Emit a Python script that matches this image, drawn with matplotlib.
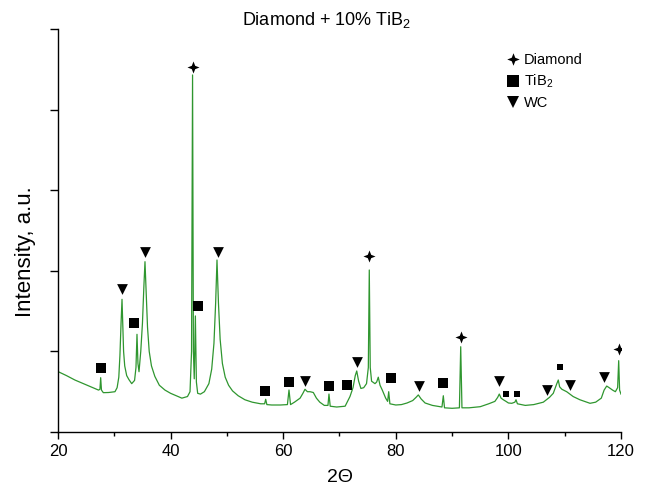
import matplotlib
matplotlib.use("Agg")
import matplotlib.pyplot as plt
from matplotlib.path import Path
from matplotlib.lines import Line2D
from matplotlib.ticker import MultipleLocator

plt.rcParams['font.family'] = ['Liberation Sans', 'DejaVu Sans']
plt.rcParams['mathtext.fontset'] = 'custom'
plt.rcParams['mathtext.rm'] = 'Liberation Sans'
plt.rcParams['mathtext.it'] = 'Liberation Sans'

# ---- XRD pattern (2theta, intensity a.u.) ----
two_theta = [20.05, 21.5, 23.0, 24.5, 26.0, 27.2, 27.45, 27.58, 27.72, 28.05, 29.0, 30.12,
             30.5, 30.8, 31.0, 31.2, 31.37, 31.5, 31.65, 31.85, 32.2, 32.6, 33.09, 33.6,
             33.85, 34.03, 34.2, 34.39, 34.7, 35.0, 35.25, 35.45, 35.65, 35.9, 36.2, 36.6,
             37.2, 38.0, 39.0, 40.0, 41.0, 42.0, 43.0, 43.45, 43.72, 43.9, 44.05, 44.2,
             44.4, 44.58, 44.81, 45.3, 46.0, 46.8, 47.3, 47.7, 48.0, 48.24, 48.5, 48.8,
             49.2, 49.7, 50.3, 51.0, 52.0, 53.2, 54.5, 56.0, 56.7, 56.89, 57.1, 57.96,
             59.5, 60.75, 61.03, 61.3, 62.0, 63.0, 63.5, 63.87, 64.3, 64.76, 65.35, 65.9,
             66.5, 67.3, 67.95, 68.13, 68.35, 69.5, 71.0, 71.86, 72.4, 72.8, 73.06, 73.4,
             73.8, 74.3, 74.8, 75.12, 75.29, 75.46, 75.7, 76.3, 76.6, 76.89, 77.2, 77.6,
             78.2, 78.55, 78.74, 78.95, 80.0, 81.0, 82.0, 83.0, 83.6, 84.0, 84.5, 85.2,
             86.5, 88.2, 88.44, 88.65, 90.0, 91.3, 91.53, 91.75, 93.0, 95.0, 96.5, 97.6,
             98.1, 98.38, 98.7, 99.1, 99.57, 100.0, 100.6, 101.15, 101.35, 101.6, 103.0, 104.5,
             106.2, 107.3, 107.97, 108.6, 108.86, 109.1, 109.5, 110.35, 111.5, 112.7, 114.5, 115.5,
             116.5, 117.0, 117.46, 117.9, 118.5, 119.0, 119.4, 119.59, 119.75, 120.0]
intensity = [0.748, 0.70, 0.645, 0.60, 0.555, 0.52, 0.53, 0.674, 0.52, 0.488, 0.49, 0.50,
             0.55, 0.68, 0.95, 1.35, 1.646, 1.35, 1.00, 0.82, 0.70, 0.65, 0.60, 0.64,
             0.80, 1.212, 0.85, 0.748, 1.00, 1.35, 1.80, 2.113, 1.75, 1.30, 1.00, 0.82,
             0.69, 0.58, 0.52, 0.48, 0.45, 0.42, 0.44, 0.50, 1.00, 4.43, 1.00, 0.66,
             1.44, 0.62, 0.48, 0.47, 0.50, 0.60, 0.78, 1.10, 1.60, 2.134, 1.60, 1.15,
             0.85, 0.68, 0.58, 0.51, 0.45, 0.40, 0.37, 0.35, 0.35, 0.406, 0.34, 0.335,
             0.335, 0.34, 0.521, 0.34, 0.37, 0.42, 0.48, 0.53, 0.50, 0.50, 0.49, 0.42,
             0.37, 0.33, 0.33, 0.471, 0.32, 0.31, 0.32, 0.44, 0.55, 0.70, 0.757, 0.63,
             0.54, 0.55, 0.60, 0.80, 2.01, 0.80, 0.63, 0.60, 0.62, 0.68, 0.58, 0.52,
             0.42, 0.38, 0.50, 0.35, 0.335, 0.34, 0.36, 0.39, 0.43, 0.46, 0.41, 0.36,
             0.33, 0.31, 0.45, 0.30, 0.294, 0.30, 1.058, 0.30, 0.30, 0.314, 0.35, 0.38,
             0.43, 0.471, 0.42, 0.40, 0.38, 0.36, 0.356, 0.37, 0.40, 0.35, 0.33, 0.34,
             0.37, 0.43, 0.48, 0.60, 0.645, 0.56, 0.53, 0.50, 0.44, 0.40, 0.356, 0.37,
             0.42, 0.52, 0.57, 0.55, 0.52, 0.50, 0.55, 0.885, 0.52, 0.47]

# ---- phase markers ----
diamond_x = [43.98, 75.29, 91.53, 119.59]
diamond_y = [4.53, 2.18, 1.18, 1.03]
tib2_x = [27.64, 33.55, 44.81, 56.77, 61.03, 68.13, 71.39, 79.09, 88.44]
tib2_y = [0.79, 1.356, 1.567, 0.512, 0.620, 0.574, 0.583, 0.666, 0.604]
tib2_small_x = [99.57, 101.47, 109.17]
tib2_small_y = [0.475, 0.475, 0.806]
wc_x = [31.42, 35.51, 48.42, 63.87, 73.16, 84.12, 98.38, 106.91, 110.94, 117.03]
wc_y = [1.774, 2.23, 2.237, 0.636, 0.865, 0.571, 0.636, 0.521, 0.583, 0.679]

title = "Diamond + 10% TiB$_2$"
xlabel = "2\u0398"
ylabel = "Intensity, a.u."
legend_labels = ["Diamond", "TiB$_2$", "WC"]
xticks = [20, 40, 60, 80, 100, 120]

# 4-pointed star marker
r = 0.28
star_path = Path([(0, 1), (r, r), (1, 0), (r, -r), (0, -1), (-r, -r), (-1, 0), (-r, r), (0, 1)],
                 [Path.MOVETO] + [Path.LINETO] * 7 + [Path.CLOSEPOLY])

fig = plt.figure(figsize=(6.48, 4.91), dpi=100)
ax = fig.add_axes([58 / 648, 1 - 432 / 491, (621 - 58) / 648, (432 - 29) / 491])

ax.plot(two_theta, intensity, color='#2f962f', lw=0.9)
ax.scatter(diamond_x, diamond_y, marker=star_path, s=75, color='black', zorder=3, linewidths=0)
ax.scatter(tib2_x, tib2_y, marker='s', s=60, color='black', zorder=3, linewidths=0)
ax.scatter(tib2_small_x, tib2_small_y, marker='s', s=18, color='black', zorder=3, linewidths=0)
ax.scatter(wc_x, wc_y, marker='v', s=60, color='black', zorder=3, linewidths=0)

ax.set_xlim(20, 120)
ax.set_ylim(0, 5)
ax.set_xticks(xticks)
ax.xaxis.set_minor_locator(MultipleLocator(10))
ax.set_yticks([0, 1, 2, 3, 4, 5])
ax.set_yticklabels([])
ax.spines['top'].set_visible(False)
ax.spines['right'].set_visible(False)
for s in ['left', 'bottom']:
    ax.spines[s].set_linewidth(1.0)
ax.tick_params(axis='x', which='major', length=5, width=1, labelsize=12, pad=4)
ax.tick_params(axis='x', which='minor', length=3, width=1)
ax.tick_params(axis='y', which='major', length=6, width=1)

fig.text(327 / 648, 1 - 20 / 491, title, ha='center', va='center', fontsize=13)
fig.text(340 / 648, 1 - 477 / 491, xlabel, ha='center', va='center', fontsize=14)
fig.text(25 / 648, 1 - 252 / 491, ylabel, ha='center', va='center', fontsize=16, rotation=90)

handles = [Line2D([], [], ls='none', marker=star_path, ms=9, color='black', mew=0),
           Line2D([], [], ls='none', marker='s', ms=8, color='black', mew=0),
           Line2D([], [], ls='none', marker='v', ms=8, color='black', mew=0)]
fig.legend(handles, legend_labels, loc='upper left', bbox_to_anchor=(506 / 648, 1 - 53 / 491),
           frameon=False, fontsize=10.5, handlelength=0.9, handletextpad=0.3,
           labelspacing=0.4, borderpad=0, borderaxespad=0)

fig.savefig("out.png", dpi=100)
